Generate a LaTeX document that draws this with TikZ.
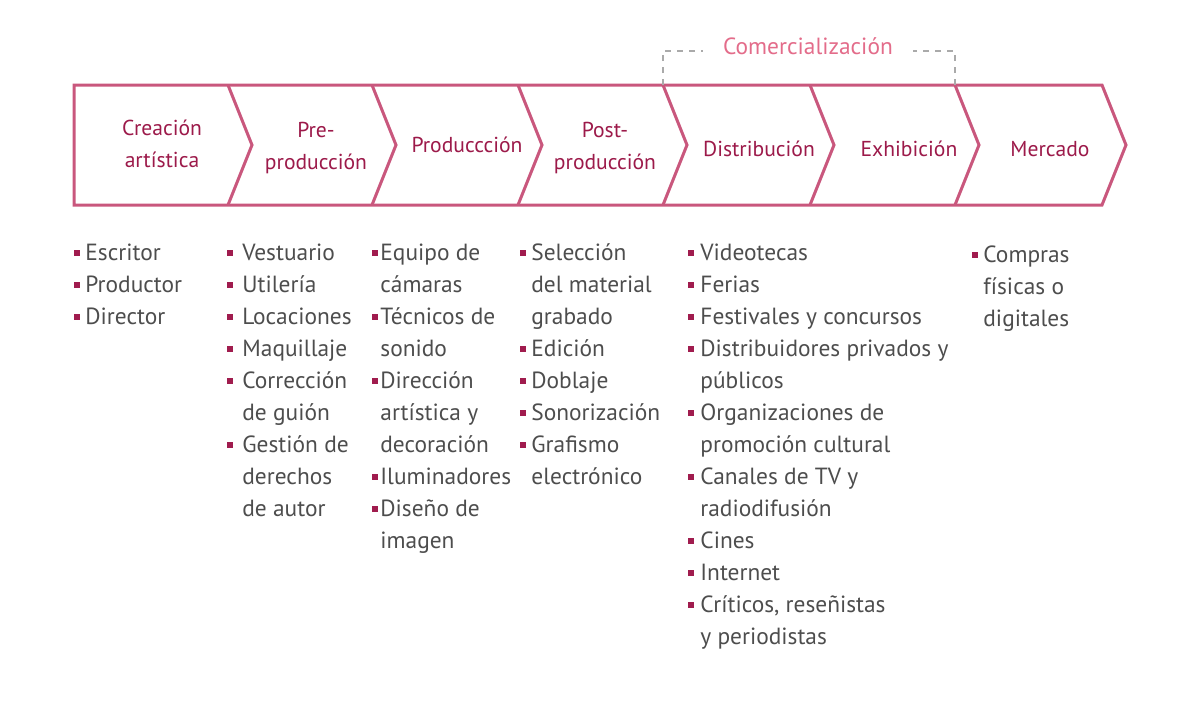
\documentclass[tikz,border=0pt]{standalone}
\usepackage{fontspec}
\setmainfont{PT Sans}
\usetikzlibrary{calc}
\definecolor{bandline}{HTML}{C9577D}
\definecolor{stage}{HTML}{9C1A4A}
\definecolor{comtext}{HTML}{E36C8A}
\definecolor{brkgray}{HTML}{AAAAAA}
\definecolor{bul}{HTML}{A01C4E}
\definecolor{itemgray}{HTML}{4D4D4D}
\tikzset{band/.style={draw=bandline,line width=1.5pt,line join=miter}}
\tikzset{st/.style={text=stage,align=center,font=\fontsize{10.8}{16}\selectfont}}
\tikzset{brk/.style={draw=brkgray,dashed,line width=0.6pt}}
\tikzset{lst/.style={anchor=north west,inner sep=0pt,text=itemgray,font=\fontsize{11.7}{16}\selectfont}}
\newcommand{\bl}{\textcolor{bul}{\rule[0.45ex]{3pt}{3pt}}}

\begin{document}
\begin{tikzpicture}[x=0.5pt,y=-0.5pt]
      \useasboundingbox (0,0) rectangle (1200,723);
      % chevron band
      \draw[band] (74,85) -- (1102,85) -- (1126,145) -- (1102,205) -- (74,205) -- cycle;
      \foreach \x in {228,372,518,663,810,955}
        \draw[band] (\x,85) -- (\x+24,145) -- (\x,205);
      % stages
      \node[st] (crea) at (162,144) {Creación\\artística};
      \node[st] (pre) at (316,148) {Pre-\\producción};
      \node[st] (prod) at (467,145) {Produccción};
      \node[st] (post) at (605,148) {Post-\\producción};
      \node[st] (dist) at (759,149) {Distribución};
      \node[st] (exhi) at (909,149) {Exhibición};
      \node[st] (merc) at (1050,149) {Mercado};
      % bracket
      \node[text=comtext,font=\fontsize{11.7}{12}\selectfont,inner xsep=10pt] (com) at (808,46) {Comercialización};
      \coordinate (cl) at (663,85);
      \coordinate (cr) at (955,85);
      \draw[brk] (cl) |- ($(com.west)+(0,5)$);
      \draw[brk] (cr) |- ($(com.east)+(0,5)$);
      % lists
      \node[lst] (l1) at (74,238) {\begin{tabular}{@{}l@{\hspace{2.5pt}}l@{}}
        \bl & Escritor\\ \bl & Productor\\ \bl & Director
      \end{tabular}};
      \node[lst] (l2) at (227,238) {\begin{tabular}{@{}l@{\hspace{4.5pt}}l@{}}
        \bl & Vestuario\\ \bl & Utilería\\ \bl & Locaciones\\ \bl & Maquillaje\\
        \bl & Corrección\\ & de guión\\ \bl & Gestión de\\ & derechos\\ & de autor
      \end{tabular}};
      \node[lst] (l3) at (372,238) {\begin{tabular}{@{}l@{\hspace{1pt}}l@{}}
        \bl & Equipo de\\ & cámaras\\ \bl & Técnicos de\\ & sonido\\
        \bl & Dirección\\ & artística y\\ & decoración\\ \bl & Iluminadores\\
        \bl & Diseño de\\ & imagen
      \end{tabular}};
      \node[lst] (l4) at (520,238) {\begin{tabular}{@{}l@{\hspace{2.5pt}}l@{}}
        \bl & Selección\\ & del material\\ & grabado\\ \bl & Edición\\ \bl & Doblaje\\
        \bl & Sonorización\\ \bl & Grafismo\\ & electrónico
      \end{tabular}};
      \node[lst] (l5) at (688,238) {\begin{tabular}{@{}l@{\hspace{3pt}}l@{}}
        \bl & Videotecas\\ \bl & Ferias\\ \bl & Festivales y concursos\\
        \bl & Distribuidores privados y\\ & públicos\\ \bl & Organizaciones de\\ & promoción cultural\\
        \bl & Canales de TV y\\ & radiodifusión\\ \bl & Cines\\ \bl & Internet\\
        \bl & Críticos, reseñistas\\ & y periodistas
      \end{tabular}};
      \node[lst] (l6) at (972,240) {\begin{tabular}{@{}l@{\hspace{2.5pt}}l@{}}
        \bl & Compras\\ & físicas o\\ & digitales
      \end{tabular}};
\end{tikzpicture}
\end{document}
